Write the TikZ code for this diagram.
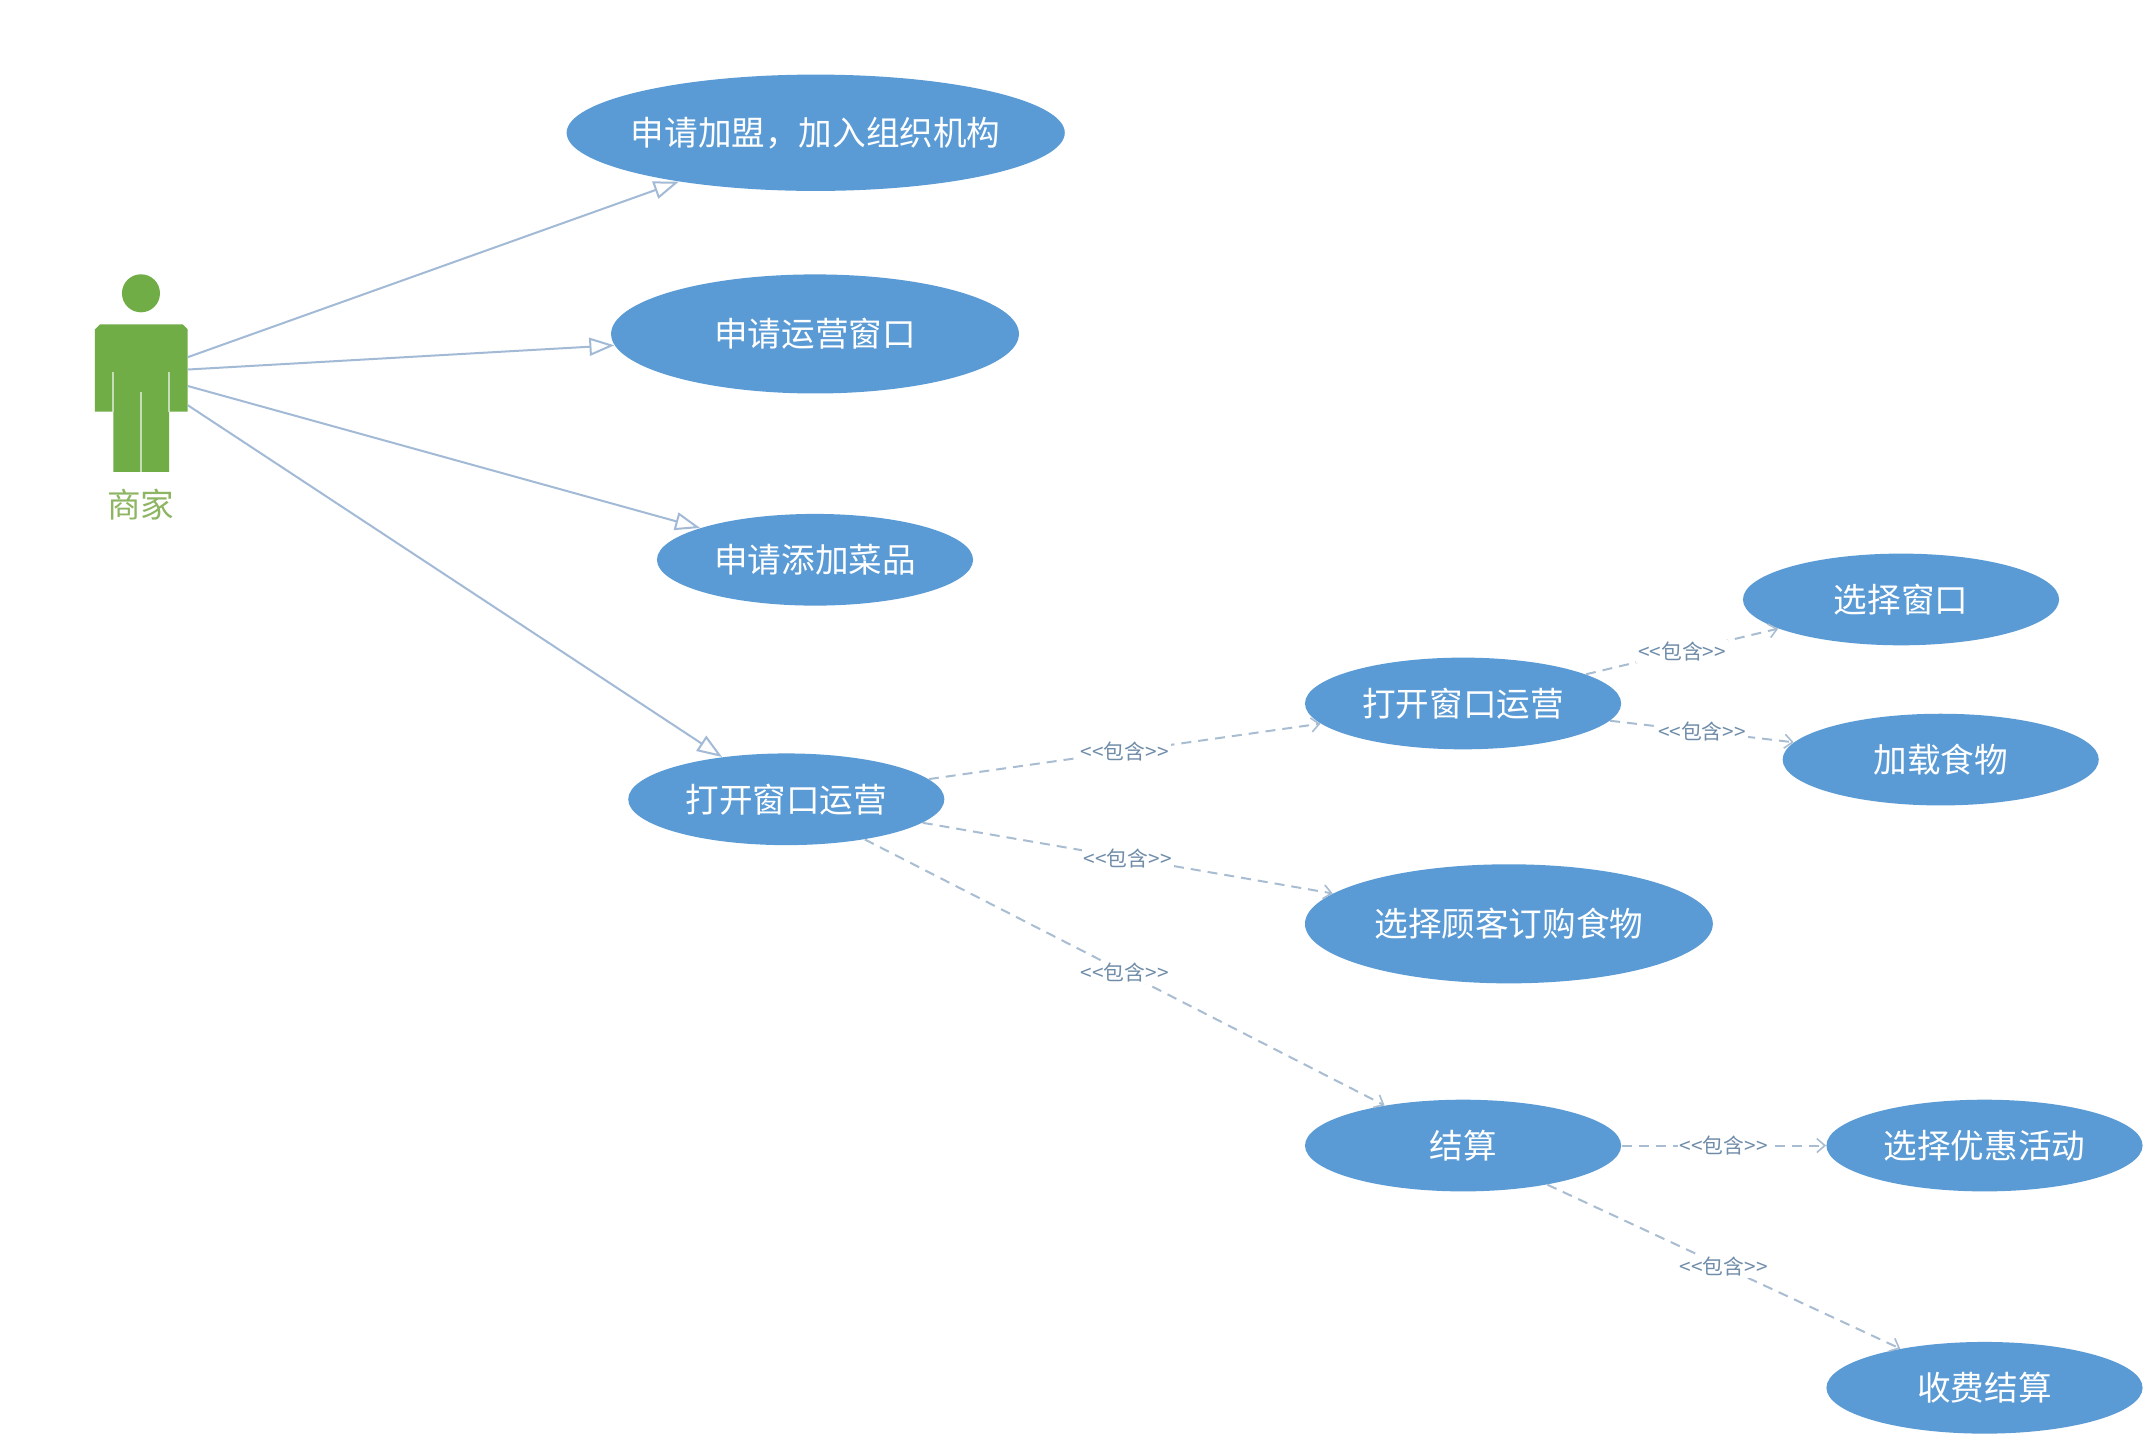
\documentclass[tikz,border=0pt]{standalone}
\usepackage{fontspec}
\setmainfont{Noto Sans CJK SC}
\usetikzlibrary{shapes.geometric,arrows.meta}
\definecolor{usefill}{HTML}{5B9BD5}
\definecolor{actorgreen}{HTML}{70AD47}
\definecolor{actortext}{HTML}{8DB562}
\definecolor{linkblue}{HTML}{A3BAD6}
\definecolor{dashblue}{HTML}{A9BDD2}
\definecolor{stereotext}{HTML}{6F8CA8}
\newlength{\ux}\setlength{\ux}{0.6843pt}
\tikzset{
  usecase/.style={ellipse,fill=usefill,draw=none,inner sep=0pt,text=white,font=\fontsize{16.8}{18}\selectfont},
  small/.style={usecase,minimum width=231\ux,minimum height=67\ux},
  medium/.style={usecase,minimum width=298\ux,minimum height=87\ux},
  large/.style={usecase,inner xsep=-9pt,minimum width=364\ux,minimum height=85\ux},
  assoc/.style={draw=linkblue,line width=1pt,-{Triangle[open,length=12.5pt,width=9pt,fill=white]}},
  incl/.style={draw=dashblue,line width=1pt,dash pattern=on 5pt off 3.5pt,-{Straight Barb[length=4pt,width=7pt,line width=.8pt]}},
  stereo/.style={fill=white,inner sep=1pt,text=stereotext,font=\fontsize{10.4}{12}\selectfont,midway},
  actorpart/.style={fill=actorgreen,draw=none},
  slit/.style={draw=white!60!actorgreen,line width=1pt}
}
\begin{document}
\begin{tikzpicture}[x=0.6843pt,y=-0.6843pt]
\useasboundingbox[fill=white] (0,0) rectangle (1568,1052);
% actor
\node[actorpart,circle,minimum size=27.8\ux,inner sep=0pt] (head) at (103,214.3) {};
\fill[actorgreen] (73,237) -- (133.5,237) -- (137.1,240.6) -- (137.1,300.8) -- (123.5,300.8) -- (123.5,344.7) -- (82.8,344.7) -- (82.8,300.8) -- (69.4,300.8) -- (69.4,240.6) -- cycle;
\draw[slit] (82.6,271.6) -- (82.6,300.8);
\draw[slit] (123.7,271.6) -- (123.7,300.8);
\draw[slit] (103,286.2) -- (103,344.7);
\node[text=actortext,font=\fontsize{16.8}{18}\selectfont,inner sep=0pt] (actorlabel) at (103,368.5) {商家};
\coordinate (a1) at (137.1,261);
\coordinate (a2) at (137.1,270);
\coordinate (a3) at (137.1,282);
\coordinate (a4) at (137.1,296);
% use cases
\node[large]  (e1)  at (596,97)    {申请加盟，加入组织机构};
\node[medium] (e2)  at (595.5,244)   {申请运营窗口};
\node[small]  (e3)  at (595.5,409) {申请添加菜品};
\node[small]  (e4)  at (574.5,584) {打开窗口运营};
\node[small]  (e5)  at (1069,514){打开窗口运营};
\node[small]  (e6)  at (1389,438){选择窗口};
\node[small]  (e7)  at (1418,555){加载食物};
\node[medium] (e8)  at (1102.5,675)  {选择顾客订购食物};
\node[small]  (e9)  at (1069,837){结算};
\node[small]  (e10) at (1450,837){选择优惠活动};
\node[small]  (e11) at (1450,1014){收费结算};
% associations
\draw[assoc] (a1) -- (e1);
\draw[assoc] (a2) -- (e2);
\draw[assoc] (a3) -- (e3);
\draw[assoc] (a4) -- (e4);
% includes
\draw[incl] (e4) -- node[stereo] {<{}<包含>{}>} (e5);
\draw[incl] (e4) -- node[stereo] {<{}<包含>{}>} (e8);
\draw[incl] (e4) -- node[stereo] {<{}<包含>{}>} (e9);
\draw[incl] (e5) -- node[stereo] {<{}<包含>{}>} (e6);
\draw[incl] (e5) -- node[stereo] {<{}<包含>{}>} (e7);
\draw[incl] (e9) -- node[stereo] {<{}<包含>{}>} (e10);
\draw[incl] (e9) -- node[stereo] {<{}<包含>{}>} (e11);
\end{tikzpicture}
\end{document}
